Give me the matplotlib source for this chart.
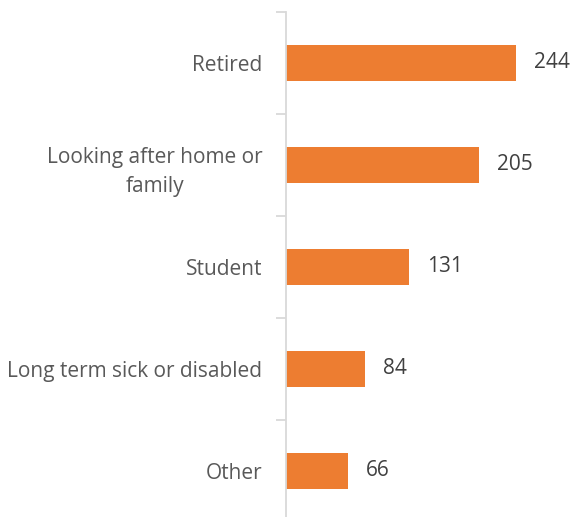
import numpy as np
import matplotlib.pyplot as plt

categories = ["Retired", "Looking after home or\nfamily", "Student",
              "Long term sick or disabled", "Other"]
values = [244, 205, 131, 84, 66]

plt.rcParams['font.family'] = ['Open Sans', 'DejaVu Sans']

fig = plt.figure(figsize=(5.73, 5.17), dpi=100)
# axes spans from y=12px to y=522px (slightly past the bottom edge)
ax = fig.add_axes([286 / 573, (517 - 522) / 517, 287 / 573, 510 / 517])

y = np.arange(len(categories))
ax.barh(y, values, height=0.355, color="#ED7D31")
ax.set_ylim(len(categories) - 0.5, -0.5)
ax.set_xlim(0, 304.5)

for yi, v in zip(y, values):
    ax.text(v + 19, yi, str(v), va="center", ha="left",
            fontsize=15, color="#404040")

ax.set_yticks(y)
ax.set_yticklabels(categories, fontsize=15, color="#595959",
                   multialignment="center", linespacing=1.55)
ax.tick_params(axis="y", which="major", length=0, pad=17)
ax.set_yticks(np.arange(-0.5, len(categories) + 0.5, 1), minor=True)
ax.tick_params(axis="y", which="minor", length=7, width=1.3, color="#D9D9D9")
ax.set_xticks([])

for s in ["top", "right", "bottom"]:
    ax.spines[s].set_visible(False)
ax.spines["left"].set_color("#D9D9D9")
ax.spines["left"].set_linewidth(1.3)

fig.savefig("out.png", dpi=100)
